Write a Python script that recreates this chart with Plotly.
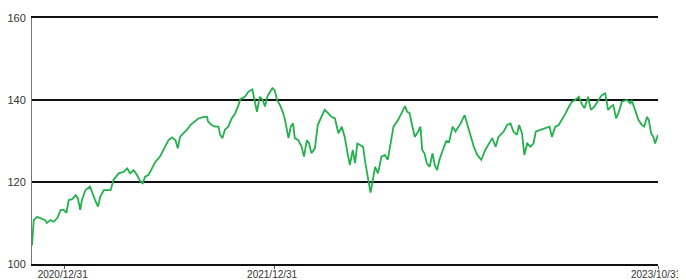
import pandas as pd
import plotly.graph_objects as go

start_date = "2020-11-04"
day_offsets = [
    0, 3, 9, 15, 23, 26, 32, 38, 44, 50, 55, 60, 64, 70, 76, 80, 84, 87, 93, 101,
    105, 110, 115, 119, 125, 131, 137, 142, 151, 160, 166, 171, 177, 183, 189, 193, 197, 203, 209, 215,
    223, 229, 238, 244, 250, 254, 258, 264, 270, 276, 281, 290, 299, 305, 307, 313, 319, 325, 328, 332,
    336, 342, 348, 354, 360, 363, 371, 377, 384, 389, 392, 397, 402, 406, 410, 415, 419, 423, 427, 432,
    437, 441, 444, 447, 451, 455, 458, 464, 470, 474, 479, 483, 487, 493, 498, 505, 510, 516, 522, 528,
    534, 540, 545, 550, 554, 559, 563, 567, 573, 577, 581, 586, 590, 594, 598, 603, 609, 615, 620, 625,
    630, 638, 644, 650, 654, 658, 663, 667, 673, 677, 680, 684, 688, 693, 698, 702, 706, 710, 716, 722,
    727, 733, 738, 747, 754, 759, 764, 770, 776, 783, 790, 796, 802, 808, 813, 822, 828, 834, 839, 845,
    849, 854, 858, 863, 869, 874, 878, 886, 895, 902, 906, 912, 918, 925, 930, 936, 941, 947, 953, 959,
    963, 969, 974, 980, 987, 993, 999, 1004, 1009, 1013, 1018, 1022, 1028, 1037, 1043, 1045, 1051, 1057, 1063, 1067,
    1072, 1075, 1079, 1083, 1086, 1091,
]
values = [
    104.5, 110.7, 111.5, 111.2, 110.7, 110.0, 110.7, 110.3, 111.2, 113.2, 113.2, 112.5, 115.6, 115.8, 116.8, 116.0, 113.2, 115.6, 118.0, 118.9,
    117.2, 115.6, 114.0, 116.4, 118.0, 118.0, 118.0, 120.5, 122.1, 122.5, 123.3, 122.1, 122.9, 121.7, 120.1, 119.7, 121.3, 121.7, 123.3, 124.9,
    126.2, 127.8, 130.2, 130.9, 130.2, 128.2, 131.0, 131.9, 132.7, 133.9, 134.5, 135.5, 135.9, 135.9, 134.7, 133.9, 133.5, 133.5, 131.5, 130.7,
    132.7, 133.5, 135.5, 136.7, 138.8, 140.2, 140.8, 142.0, 142.6, 139.2, 137.1, 140.8, 140.0, 138.4, 140.8, 142.0, 142.9, 142.4, 140.0, 138.8,
    137.1, 135.1, 133.1, 130.7, 133.5, 134.3, 130.7, 130.2, 128.6, 126.2, 130.2, 129.4, 127.0, 128.2, 133.9, 136.3, 137.6, 136.8, 135.9, 135.5,
    131.9, 133.5, 131.0, 127.0, 124.1, 127.8, 124.6, 129.4, 129.0, 128.6, 124.6, 120.5, 117.4, 120.5, 123.7, 122.1, 126.2, 126.6, 125.4, 129.4,
    133.5, 135.1, 136.8, 138.5, 137.1, 136.8, 133.5, 131.0, 132.3, 133.5, 127.8, 127.0, 124.6, 123.7, 127.0, 124.1, 122.9, 125.4, 127.8, 130.0,
    129.8, 133.5, 132.3, 134.3, 136.3, 133.9, 131.0, 128.6, 126.6, 125.4, 127.8, 129.4, 130.7, 128.6, 131.0, 132.3, 133.9, 134.3, 132.3, 131.5,
    133.9, 131.9, 126.6, 129.4, 128.6, 129.4, 132.3, 132.7, 133.1, 133.5, 131.0, 133.5, 133.9, 135.5, 136.8, 138.4, 139.6, 140.0, 140.8, 138.8,
    138.0, 140.8, 137.6, 138.4, 140.0, 141.2, 141.6, 137.6, 138.4, 138.8, 135.5, 136.8, 139.6, 140.0, 139.2, 140.0, 137.6, 135.1, 133.9, 133.5,
    135.9, 135.1, 131.9, 131.0, 129.4, 131.5,
]
tick_dates = ["2020-12-31", "2021-12-31", "2023-10-31"]
tick_labels = ["2020/12/31", "2021/12/31", "2023/10/31"]
y_ticks = [100, 120, 140, 160]
x_end = "2023-10-31"

dates = pd.to_datetime(start_date) + pd.to_timedelta(day_offsets, unit="D")

fig = go.Figure()
fig.add_trace(go.Scatter(
    x=dates, y=values, mode="lines",
    line=dict(color="#22B14C", width=1.8),
    hoverinfo="skip", showlegend=False,
))

# page body has an 8px margin; figure is sized/margined to compensate
fig.update_layout(
    width=690, height=272,
    margin=dict(l=24, r=40, t=10, b=16),
    paper_bgcolor="white", plot_bgcolor="white",
    font=dict(family="Liberation Sans, Arial, sans-serif", size=11, color="#333333"),
)
fig.update_xaxes(
    type="date", automargin=False,
    range=[pd.to_datetime(start_date), pd.to_datetime(x_end)],
    tickvals=pd.to_datetime(tick_dates), ticktext=tick_labels,
    ticks="outside", ticklen=3, tickwidth=1, tickcolor="#555555",
    ticklabelstandoff=-3, ticklabelshift=-2,
    showgrid=False, zeroline=False,
    showline=True, mirror=True, linecolor="#111111", linewidth=2,
    tickfont=dict(size=10, color="#333333"),
)
fig.update_yaxes(
    automargin=False,
    range=[100, 160], tickvals=y_ticks,
    showgrid=True, gridcolor="#111111", gridwidth=2,
    zeroline=False, showline=True, linecolor="#777777", linewidth=1,
    ticks="", ticklabelstandoff=3,
    tickfont=dict(size=11, color="#333333"),
)

fig.write_html("out.html")
